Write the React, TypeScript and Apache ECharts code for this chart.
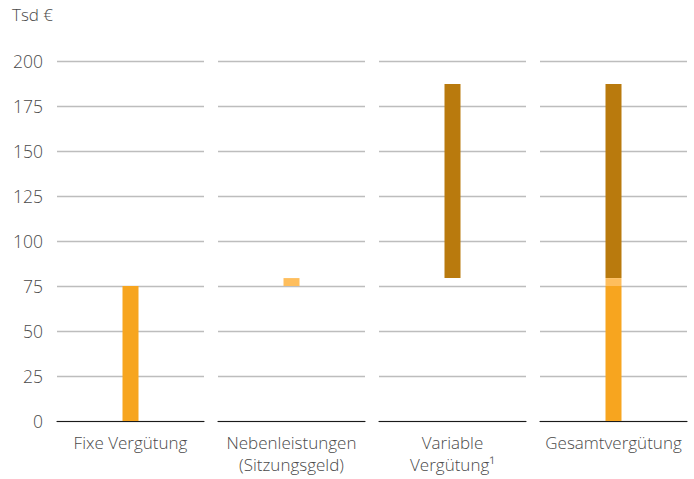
import React, { useEffect, useRef } from "react";
import * as echarts from "echarts";

const categories = ["Fixe Vergütung", "Nebenleistungen\n(Sitzungsgeld)", "Variable\nVergütung¹", "Gesamtvergütung"];
const offsetValues = [0, 75, 79.4, 0];
const fixeValues = [75, 0, 0, 75];
const nebenValues = [0, 4.4, 0, 4.4];
const variableValues = [0, 0, 107.8, 107.8];
const yTicks = { min: 0, max: 200, interval: 25 };
const unitLabel = "Tsd €";

const COLORS = { fixe: "#F7A51F", neben: "#FEBE5D", variable: "#B97A0D" };
const FONT = "'Open Sans', Lato, sans-serif";
const TEXT = "#4a4a4a";

export default function App() {
  const ref = useRef<HTMLDivElement>(null);
  useEffect(() => {
    if (!ref.current) return;
    const chart = echarts.init(ref.current, undefined, { renderer: "svg" });
    const grids: any[] = [];
    const xAxes: any[] = [];
    const yAxes: any[] = [];
    const series: any[] = [];
    categories.forEach((cat, i) => {
      grids.push({ left: 57 + 161 * i, width: 147, top: 61, height: 360 });
      xAxes.push({
        gridIndex: i,
        type: "category",
        data: [cat],
        axisLine: { lineStyle: { color: "#1a1a1a", width: 1.2 } },
        axisTick: { show: false },
        axisLabel: { color: TEXT, fontSize: 17, fontWeight: 300, fontFamily: FONT, lineHeight: 22, margin: 10, interval: 0 },
      });
      yAxes.push({
        gridIndex: i,
        type: "value",
        min: yTicks.min,
        max: yTicks.max,
        interval: yTicks.interval,
        axisLine: { show: false },
        axisTick: { show: false },
        splitLine: { lineStyle: { color: "#bdbdbd", width: 1.3 } },
        axisLabel: { show: i === 0, color: TEXT, fontSize: 17.5, fontWeight: 300, fontFamily: FONT, margin: 14 },
      });
      const mk = (name: string, vals: number[], color: string | null) => ({
        name,
        type: "bar",
        xAxisIndex: i,
        yAxisIndex: i,
        stack: "s" + i,
        barWidth: 16,
        data: [vals[i]],
        itemStyle: color ? { color } : { color: "transparent" },
        emphasis: { disabled: true },
        silent: true,
      });
      series.push(mk("offset", offsetValues, null));
      series.push(mk("fixe", fixeValues, COLORS.fixe));
      series.push(mk("neben", nebenValues, COLORS.neben));
      series.push(mk("variable", variableValues, COLORS.variable));
    });
    chart.setOption({
      animation: false,
      grid: grids,
      xAxis: xAxes,
      yAxis: yAxes,
      series,
      graphic: [
        { type: "text", left: 12, top: 6, style: { text: unitLabel, fill: TEXT, fontSize: 17, fontWeight: 300, fontFamily: FONT } },
      ],
    });
    return () => chart.dispose();
  }, []);
  return <div ref={ref} style={{ position: "fixed", left: 0, top: 0, width: 694, height: 479, background: "#fff" }} />;
}
